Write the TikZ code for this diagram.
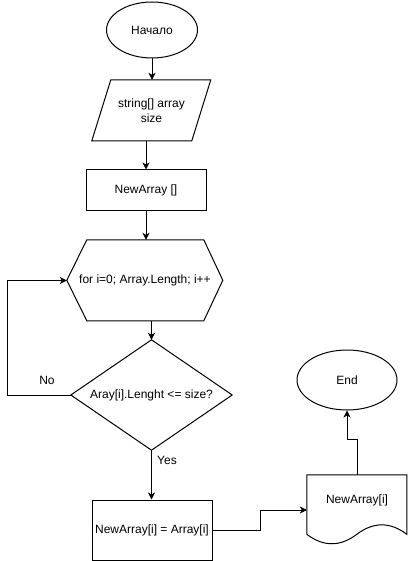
\documentclass[tikz,border=0pt]{standalone}
\usepackage{fontspec}
\setmainfont{Liberation Sans}
\usetikzlibrary{shapes.geometric,arrows.meta}

\begin{document}
\begin{tikzpicture}[
    x=1pt, y=-1pt,
    every node/.style={font=\fontsize{12}{14.5}\selectfont, inner sep=0pt},
    line/.style={line width=1pt, black},
    flow/.style={line, -{Stealth[length=7pt,width=7pt,inset=2pt]}},
    terminal/.style={ellipse, draw, line width=1pt, minimum width=91pt, minimum height=56pt},
    procbox/.style={rectangle, draw, line width=1pt},
    frame/.style={rectangle, draw=none},
    caption/.style={align=center}
  ]
  % page area
  \fill[white] (0,0) rectangle (408,561);
  \useasboundingbox (0,0) rectangle (408,561);

  % start
  \node[terminal] (start) at (152,30) {Начало};

  % input (parallelogram)
  \node[frame, minimum width=119pt, minimum height=61pt, caption] (input) at (151.5,110.5)
       {string[] array\\size};
  \draw[line, shift={(input.north west)}] (19,0) -- (119,0) -- (100,61) -- (0,61) -- cycle;

  % new array
  \node[procbox, minimum width=120pt, minimum height=40pt] (newarr) at (146,190) {NewArray []};

  % loop header (hexagon)
  \node[frame, minimum width=156pt, minimum height=81pt] (loop) at (145,280.5)
       {for i=0; Array.Length; i++};
  \draw[line, shift={(loop.north west)}]
       (20,0) -- (137,0) -- (156,40.5) -- (137,81) -- (20,81) -- (0,40.5) -- cycle;

  % condition (diamond)
  \node[frame, minimum width=161pt, minimum height=110pt] (dec) at (151.5,395)
       {Aray[i].Lenght <= size?};
  \draw[line] (dec.north) -- (dec.east) -- (dec.south) -- (dec.west) -- cycle;

  % assignment
  \node[procbox, minimum width=120pt, minimum height=60pt] (assign) at (152,530)
       {NewArray[i] = Array[i]};

  % output document
  \node[frame, minimum width=100pt, minimum height=70pt] (doc) at (357,510) {};
  \draw[line, shift={(doc.north west)}]
       (0,0) -- (100,0) -- (100,59.5)
       .. controls (83.33,46.9) and (66.67,46.9) .. (50,59.5)
       .. controls (33.33,72.1) and (16.67,72.1) .. (0,59.5) -- cycle;
  \node (doctext) at (357,500) {NewArray[i]};

  % end
  \node[terminal, minimum width=100pt, minimum height=60pt] (end) at (347,380) {End};

  % connectors
  \draw[flow] (start.south) -- (start.south |- input.north);
  \draw[flow] (input.south -| newarr.north) -- (newarr.north);
  \draw[flow] (newarr.south) -- (newarr.south |- loop.north);
  \draw[flow] (dec.north |- loop.south) -- (dec.north);
  \draw[flow] (dec.west) -- ++(-63,0) |- (loop.west);
  \draw[flow] (dec.south) -- (dec.south |- assign.north);
  \draw[flow] (assign.east) -- ++(48,0) |- (doc.west);
  \draw[flow] (doc.north) -- ++(0,-35) -| (end.south);

  % branch labels
  \node (no) at (47,380) {No};
  \node (yes) at (167,460) {Yes};
\end{tikzpicture}
\end{document}
